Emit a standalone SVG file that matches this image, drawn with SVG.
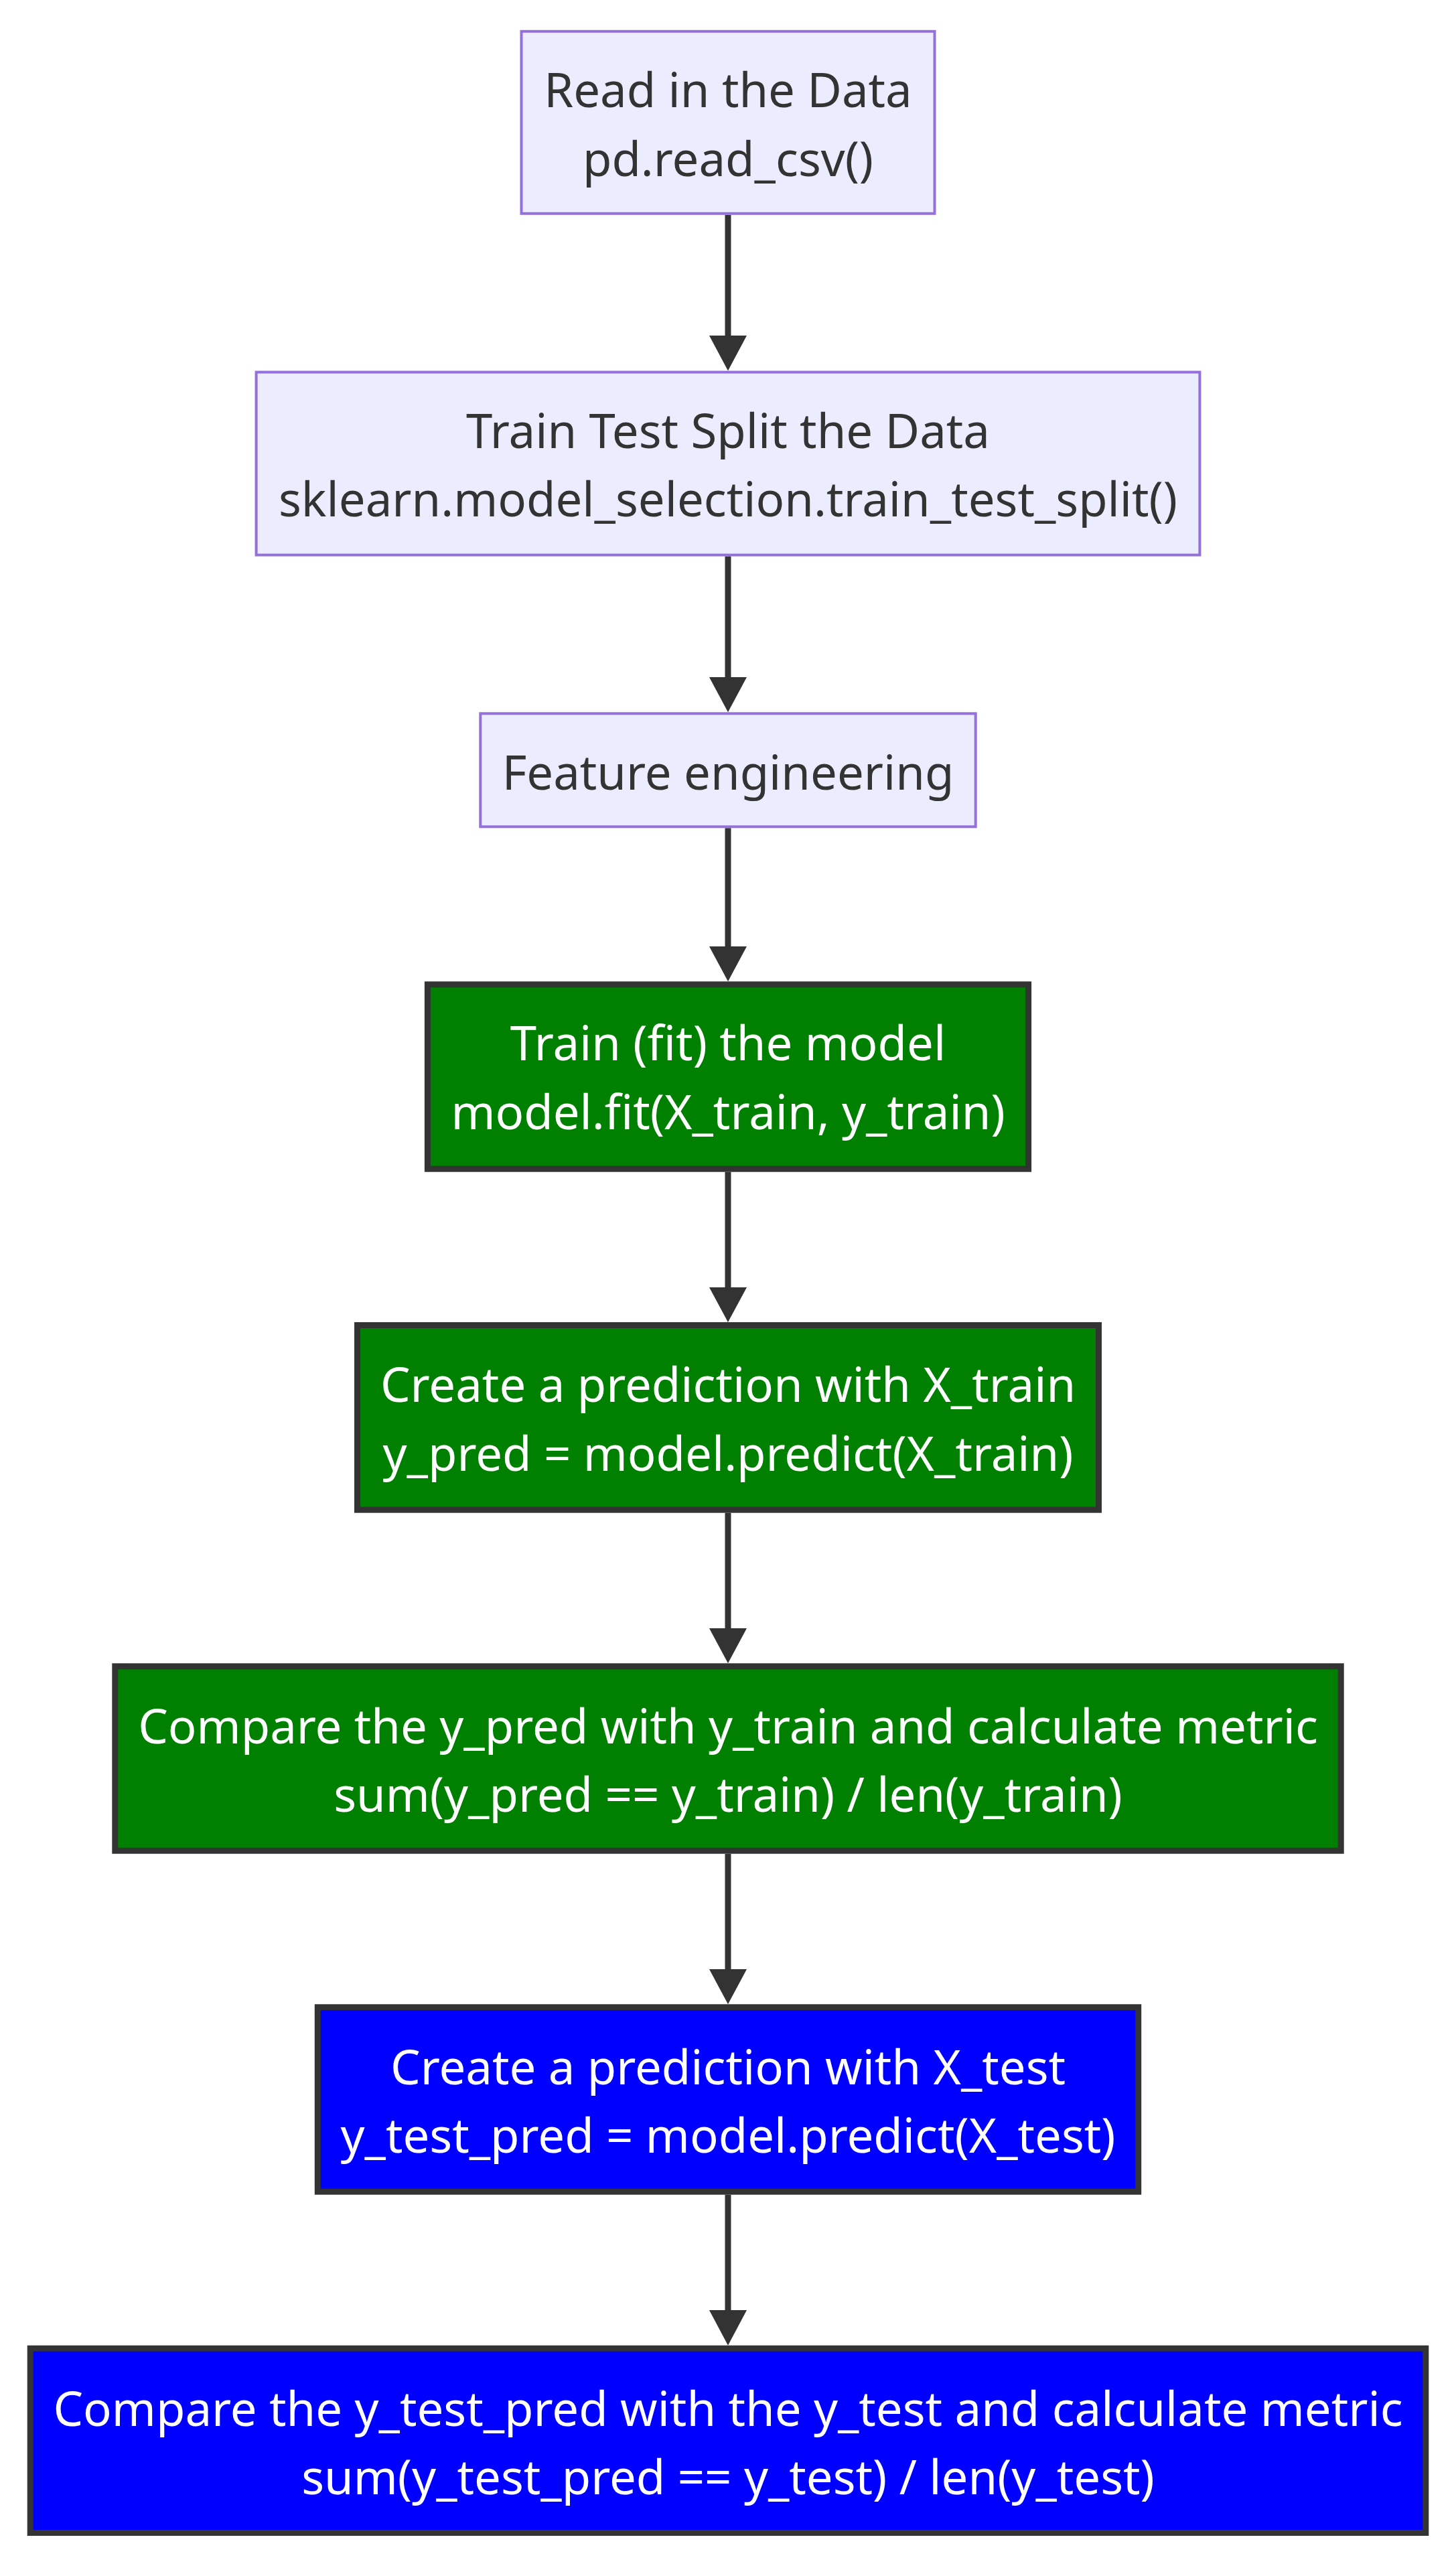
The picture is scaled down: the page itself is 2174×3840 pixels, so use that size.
<svg xmlns="http://www.w3.org/2000/svg" width="2174" height="3840" viewBox="0 0 2174 3840">
<defs>
<style>
.bg{fill:#ffffff}
.def rect{fill:#ECECFF;stroke:#9370DB;stroke-width:4}
.grn rect{fill:#008000;stroke:#333333;stroke-width:9}
.blu rect{fill:#0000FF;stroke:#333333;stroke-width:9}
text{font-family:"Noto Sans","Open Sans","DejaVu Sans",sans-serif;font-size:70.7px;text-anchor:middle}
.def text{fill:#333333}
.grn text,.blu text{fill:#ffffff}
.edge{stroke:#333333;stroke-width:9;fill:none}
.head{fill:#333333}
</style>
</defs>
<rect class="bg" x="0" y="0" width="2174" height="3840"/>
<g id="edges">
<path class="edge" d="M1087,321 V503"/><path class="head" d="M1059,501 L1115,501 L1087,553.6 Z"/>
<path class="edge" d="M1087,830.6 V1013"/><path class="head" d="M1059,1011 L1115,1011 L1087,1063.3 Z"/>
<path class="edge" d="M1087,1236.2 V1415"/><path class="head" d="M1059,1413 L1115,1413 L1087,1465.3 Z"/>
<path class="edge" d="M1087,1749.7 V1924"/><path class="head" d="M1059,1922 L1115,1922 L1087,1974 Z"/>
<path class="edge" d="M1087,2258.7 V2433"/><path class="head" d="M1059,2431 L1115,2431 L1087,2483.3 Z"/>
<path class="edge" d="M1087,2767.7 V2942"/><path class="head" d="M1059,2940 L1115,2940 L1087,2992.3 Z"/>
<path class="edge" d="M1087,3276.7 V3451"/><path class="head" d="M1059,3449 L1115,3449 L1087,3501.7 Z"/>
</g>
<g id="A" class="def">
<rect x="778.5" y="46.8" width="617" height="272"/>
<text x="1087" y="160">Read in the Data</text>
<text x="1087" y="263">pd.read_csv()</text>
</g>
<g id="B" class="def">
<rect x="382.6" y="555.6" width="1408.8" height="273"/>
<text x="1087" y="668.5">Train Test Split the Data</text>
<text x="1087" y="771">sklearn.model_selection.train_test_split()</text>
</g>
<g id="C" class="def">
<rect x="717.3" y="1065.3" width="739.4" height="169"/>
<text x="1087" y="1178.5">Feature engineering</text>
</g>
<g id="D" class="grn">
<rect x="638.4" y="1469.8" width="897.2" height="275.4"/>
<text x="1087" y="1583">Train (fit) the model</text>
<text x="1087" y="1686">model.fit(X_train, y_train)</text>
</g>
<g id="E" class="grn">
<rect x="533.5" y="1978.5" width="1107" height="275.7"/>
<text x="1087" y="2093">Create a prediction with X_train</text>
<text x="1087" y="2196">y_pred = model.predict(X_train)</text>
</g>
<g id="F" class="grn">
<rect x="171.8" y="2487.8" width="1830.4" height="275.4"/>
<text x="1087" y="2602.5">Compare the y_pred with y_train and calculate metric</text>
<text x="1087" y="2705">sum(y_pred == y_train) / len(y_train)</text>
</g>
<g id="G" class="blu">
<rect x="474.3" y="2996.8" width="1225.4" height="275.4"/>
<text x="1087" y="3111.5">Create a prediction with X_test</text>
<text x="1087" y="3214">y_test_pred = model.predict(X_test)</text>
</g>
<g id="H" class="blu">
<rect x="45.2" y="3506.2" width="2083.6" height="275.3"/>
<text x="1087" y="3621.5">Compare the y_test_pred with the y_test and calculate metric</text>
<text x="1087" y="3723.5">sum(y_test_pred == y_test) / len(y_test)</text>
</g>
</svg>
